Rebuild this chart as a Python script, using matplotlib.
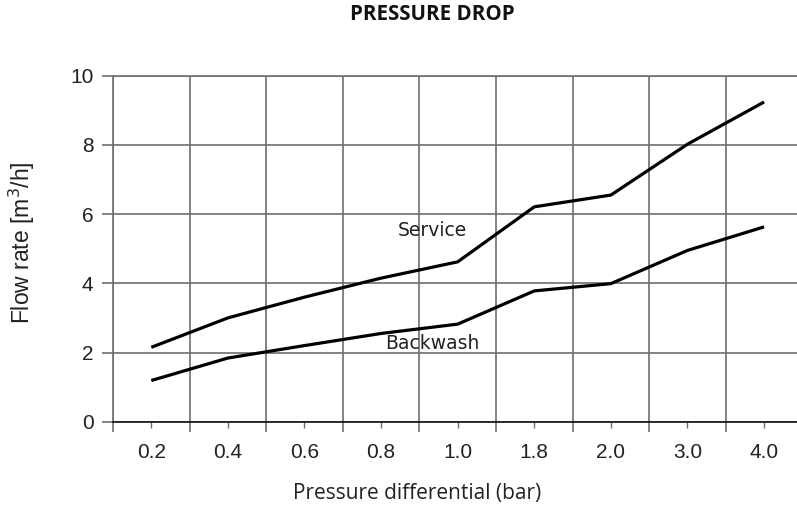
import numpy as np
import matplotlib.pyplot as plt
from matplotlib import font_manager
from matplotlib.ticker import FixedLocator

## data
pressure_labels = ["0.2", "0.4", "0.6", "0.8", "1.0", "1.8", "2.0", "3.0", "4.0"]
service_flow = [2.15, 3.0, 3.6, 4.15, 4.62, 6.21, 6.55, 8.02, 9.24]
backwash_flow = [1.19, 1.84, 2.2, 2.55, 2.82, 3.78, 3.99, 4.95, 5.63]
y_ticks = [0, 2, 4, 6, 8, 10]

grid_col = "#6e6e6e"
text_col = "#222222"

## pick the regular (not narrow) Liberation Sans file
arial_file = None
for f in font_manager.fontManager.ttflist:
    if f.name == "Liberation Sans" and f.style == "normal" and f.weight == 400 \
            and "Narrow" not in f.fname:
        arial_file = f.fname
        break
def arial(size):
    if arial_file:
        return font_manager.FontProperties(fname=arial_file, size=size)
    return font_manager.FontProperties(family="DejaVu Sans", size=size)

fig = plt.figure(figsize=(7.97, 5.07), dpi=100)
ax = fig.add_axes([113 / 797, 1 - 421.7 / 507, 1 - 113 / 797, (421.7 - 75.7) / 507])

x = np.arange(len(pressure_labels))
## the two curves
ax.plot(x, service_flow, color="black", lw=2.3, solid_capstyle="butt", zorder=3)
ax.plot(x, backwash_flow, color="black", lw=2.3, solid_capstyle="butt", zorder=3)

## inline curve names
ax.text(3.67, 5.54, "Service", ha="center", va="center", fontsize=13.5,
        family="DejaVu Sans", color=text_col, zorder=4)
ax.text(3.67, 2.27, "Backwash", ha="center", va="center", fontsize=13.5,
        family="DejaVu Sans", color=text_col, zorder=4)

## axes limits and ticks
ax.set_xlim(-0.5, 8.43)
ax.set_ylim(0, 10)
ax.set_xticks(x)
ax.set_xticklabels(pressure_labels)
ax.xaxis.set_minor_locator(FixedLocator(np.arange(-0.5, 8.0, 1.0)))
ax.set_yticks(y_ticks)

ax.tick_params(axis="x", which="major", length=4.5, width=1.0, color=grid_col,
               labelcolor=text_col, pad=11)
ax.tick_params(axis="x", which="minor", length=7.5, width=1.2, color=grid_col)
ax.tick_params(axis="y", which="major", length=8, width=1.2, color=grid_col,
               labelcolor=text_col, pad=6)
for lab in ax.get_xticklabels() + ax.get_yticklabels():
    lab.set_fontproperties(arial(15))

## grid: horizontal at y ticks, vertical between categories
ax.grid(True, axis="y", which="major", color=grid_col, lw=1.2)
ax.grid(True, axis="x", which="minor", color=grid_col, lw=1.2)
ax.set_axisbelow(True)

ax.spines["right"].set_visible(False)
ax.spines["top"].set_color(grid_col)
ax.spines["top"].set_linewidth(1.2)
ax.spines["left"].set_color(grid_col)
ax.spines["left"].set_linewidth(1.2)
ax.spines["bottom"].set_color("#111111")
ax.spines["bottom"].set_linewidth(1.2)

## labels and title
fig.text(22 / 797, 1 - 243 / 507, "Flow rate [m$^3$/h]", rotation=90, ha="center",
         va="center", fontproperties=arial(16.5), color=text_col)
fig.text(417 / 797, 1 - 494 / 507, "Pressure differential (bar)", ha="center",
         va="center", fontsize=15, family="Open Sans", color=text_col)
fig.text(432 / 797, 1 - 15 / 507, "PRESSURE DROP", ha="center", va="center",
         fontsize=14.8, family="Open Sans", fontweight="bold", color="#111111")

fig.savefig("out.png", dpi=100)
